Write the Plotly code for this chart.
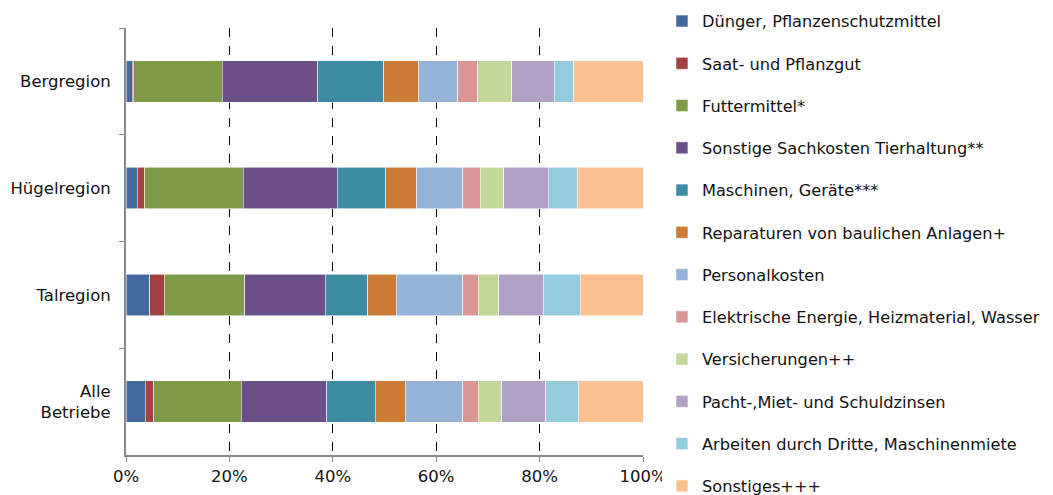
import plotly.graph_objects as go

regions = ["Bergregion", "Hügelregion", "Talregion", "Alle<br>Betriebe"]

cost_types = [
    "Dünger, Pflanzenschutzmittel",
    "Saat- und Pflanzgut",
    "Futtermittel*",
    "Sonstige Sachkosten Tierhaltung**",
    "Maschinen, Geräte***",
    "Reparaturen von baulichen Anlagen+",
    "Personalkosten",
    "Elektrische Energie, Heizmaterial, Wasser",
    "Versicherungen++",
    "Pacht-,Miet- und Schuldzinsen",
    "Arbeiten durch Dritte, Maschinenmiete",
    "Sonstiges+++",
]

# shares in % per region (Berg, Hügel, Tal, Alle)
shares = [
    [1.2, 2.2, 4.6, 3.7],
    [0.2, 1.4, 2.8, 1.7],
    [17.2, 19.1, 15.6, 16.9],
    [18.5, 18.2, 15.5, 16.5],
    [12.8, 9.3, 8.3, 9.4],
    [6.7, 6.0, 5.5, 5.8],
    [7.6, 8.9, 12.8, 11.1],
    [3.8, 3.4, 3.0, 3.0],
    [6.6, 4.6, 4.0, 4.6],
    [8.2, 8.6, 8.6, 8.5],
    [3.8, 5.6, 7.2, 6.3],
    [13.6, 12.7, 12.1, 12.5],
]

tick_values = [0, 20, 40, 60, 80, 100]
tick_labels = ["0%", "20%", "40%", "60%", "80%", "100%"]

colors = [
    "#41699D", "#A04140", "#7F9A48", "#6A5087", "#3D8BA3", "#CC7A38",
    "#95B3D7", "#D99694", "#C4D79B", "#B2A1C7", "#93CDDD", "#FAC090",
]

FONT = "Verdana, DejaVu Sans, sans-serif"

fig = go.Figure()
for i, (name, vals, color) in enumerate(zip(cost_types, shares, colors)):
    fig.add_bar(
        y=regions,
        x=vals,
        name=name,
        orientation="h",
        legendgroup=f"g{i}",
        marker={"color": color, "line": {"color": "rgba(255,255,255,0.7)", "width": 0.8}},
    )

# page body adds an 8px offset, so the figure is sized to fit the window
fig.update_layout(
    barmode="stack",
    bargap=0.61,
    width=1045,
    height=487,
    margin={"l": 118, "r": 410, "t": 20, "b": 40, "autoexpand": False},
    plot_bgcolor="white",
    paper_bgcolor="white",
    font={"family": FONT, "size": 16.2, "color": "#111111"},
    legend={
        "xref": "container",
        "yref": "paper",
        "x": 0.6258,
        "y": 1.0562,
        "xanchor": "left",
        "yanchor": "top",
        "traceorder": "grouped",
        "tracegroupgap": 18.2,
        "font": {"family": FONT, "size": 16.2},
        "itemwidth": 30,
        "maxheight": 520,
    },
)
fig.update_xaxes(
    range=[0, 100],
    tickvals=tick_values,
    ticktext=tick_labels,
    showgrid=True,
    gridcolor="black",
    griddash="dash",
    gridwidth=1,
    zeroline=False,
    showline=True,
    linecolor="#888888",
    linewidth=2,
    ticks="outside",
    ticklen=5,
    tickcolor="#888888",
    tickfont={"size": 16.5},
)
fig.update_yaxes(
    autorange="reversed",
    showline=True,
    linecolor="#888888",
    linewidth=2,
    ticks="outside",
    ticklen=5,
    tickcolor="#888888",
    tickson="boundaries",
    showgrid=False,
    tickfont={"size": 16.5},
    ticklabelstandoff=10,
)

fig.write_html("out.html")
